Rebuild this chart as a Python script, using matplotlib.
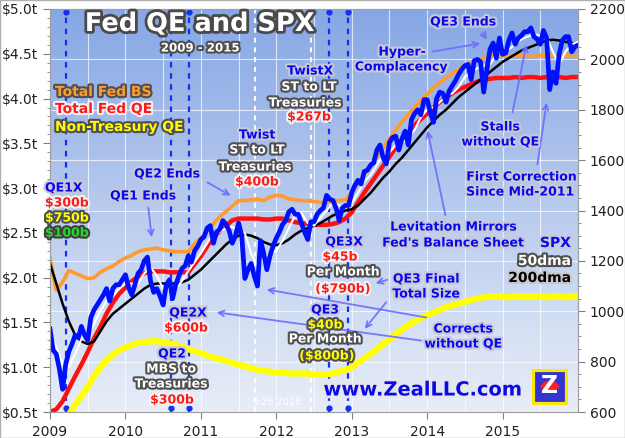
import numpy as np
import matplotlib
matplotlib.use('Agg')
import matplotlib.pyplot as plt
import matplotlib.patheffects as pe
from matplotlib.colors import LinearSegmentedColormap
from matplotlib.patches import Rectangle, Wedge

W, H = 625, 438

# Fed balance sheet series, $ trillions, month starts Jan 2009 .. Jan 2016
fed_bs = [2.22, 1.86, 1.95, 2.08, 2.05, 2.02, 1.99, 2.00, 2.06, 2.10, 2.13, 2.18,
          2.22, 2.25, 2.29, 2.31, 2.32, 2.33, 2.31, 2.30, 2.29, 2.29, 2.29, 2.38,
          2.44, 2.52, 2.60, 2.68, 2.74, 2.80, 2.86, 2.86, 2.87, 2.88, 2.86, 2.90,
          2.92, 2.91, 2.88, 2.87, 2.86, 2.86, 2.85, 2.84, 2.84, 2.86, 2.86, 2.87,
          2.95, 3.05, 3.15, 3.25, 3.35, 3.45, 3.55, 3.65, 3.74, 3.82, 3.90, 3.98,
          4.05, 4.12, 4.18, 4.23, 4.28, 4.33, 4.37, 4.40, 4.43, 4.45, 4.47, 4.48,
          4.48, 4.47, 4.48, 4.48, 4.47, 4.47, 4.48, 4.48, 4.47, 4.47, 4.48, 4.47,
          4.47]
fed_qe = [0.50, 0.53, 0.62, 0.76, 0.90, 1.03, 1.17, 1.32, 1.45, 1.60, 1.72, 1.82,
          1.89, 1.96, 2.01, 2.05, 2.07, 2.07, 2.07, 2.06, 2.06, 2.06, 2.06, 2.15,
          2.24, 2.35, 2.45, 2.52, 2.58, 2.64, 2.66, 2.66, 2.66, 2.66, 2.65, 2.65,
          2.66, 2.66, 2.64, 2.62, 2.61, 2.60, 2.59, 2.59, 2.59, 2.60, 2.62, 2.66,
          2.73, 2.84, 2.95, 3.05, 3.15, 3.25, 3.35, 3.45, 3.54, 3.62, 3.70, 3.77,
          3.83, 3.90, 3.96, 4.01, 4.06, 4.10, 4.13, 4.16, 4.19, 4.21, 4.22, 4.23,
          4.23, 4.23, 4.24, 4.23, 4.24, 4.24, 4.23, 4.24, 4.23, 4.24, 4.23, 4.24,
          4.24]
non_tsy = [0.25, 0.30, 0.38, 0.47, 0.58, 0.68, 0.78, 0.90, 1.00, 1.08, 1.14, 1.19,
           1.22, 1.25, 1.27, 1.28, 1.29, 1.29, 1.28, 1.27, 1.25, 1.23, 1.20, 1.18,
           1.16, 1.13, 1.11, 1.09, 1.07, 1.05, 1.03, 1.01, 0.99, 0.97, 0.96, 0.95,
           0.94, 0.94, 0.93, 0.93, 0.93, 0.93, 0.92, 0.92, 0.92, 0.93, 0.95, 0.97,
           1.00, 1.05, 1.10, 1.15, 1.20, 1.26, 1.31, 1.37, 1.42, 1.47, 1.51, 1.55,
           1.58, 1.61, 1.64, 1.67, 1.69, 1.71, 1.73, 1.75, 1.77, 1.78, 1.79, 1.79,
           1.79, 1.78, 1.79, 1.79, 1.78, 1.79, 1.79, 1.78, 1.79, 1.79, 1.78, 1.79,
           1.79]
months = 2009 + np.arange(len(fed_bs)) / 12

# S&P 500, twice a month
spx = [930, 845, 830, 770, 690, 790, 840, 870, 905, 895, 940, 905,
       885, 975, 1005, 1025, 1045, 1065, 1090, 1040, 1090, 1105, 1105, 1125,
       1145, 1095, 1065, 1105, 1150, 1165, 1200, 1215, 1120, 1075, 1090, 1060,
       1025, 1105, 1125, 1050, 1105, 1140, 1170, 1180, 1220, 1195, 1240, 1258,
       1285, 1295, 1330, 1340, 1270, 1315, 1325, 1360, 1345, 1320, 1270, 1300,
       1350, 1300, 1130, 1165, 1190, 1140, 1100, 1280, 1230, 1165, 1220, 1260,
       1290, 1315, 1345, 1360, 1395, 1405, 1385, 1385, 1350, 1315, 1285, 1355,
       1355, 1385, 1400, 1410, 1460, 1445, 1440, 1410, 1360, 1410, 1420, 1420,
       1470, 1500, 1520, 1505, 1555, 1560, 1580, 1590, 1640, 1660, 1610, 1585,
       1670, 1690, 1695, 1640, 1685, 1715, 1660, 1760, 1785, 1800, 1780, 1840,
       1840, 1790, 1750, 1845, 1870, 1865, 1830, 1875, 1895, 1915, 1940, 1960,
       1975, 1980, 1920, 1995, 2000, 1990, 1870, 1960, 2040, 2065, 2005, 2085,
       2020, 2025, 2075, 2105, 2060, 2085, 2095, 2110, 2110, 2125, 2090, 2080,
       2060, 2115, 2085, 1880, 1950, 1905, 2020, 2075, 2090, 2090, 2030, 2050,
       2055]
half_months = 2009 + np.arange(len(spx)) / 24

dma50 = [900, 860, 790, 780, 830, 890, 910, 950, 1000, 1040, 1060, 1090,
         1110, 1110, 1110, 1150, 1175, 1140, 1090, 1085, 1090, 1120, 1160, 1195,
         1230, 1270, 1310, 1315, 1330, 1335, 1320, 1310, 1230, 1180, 1210, 1230,
         1240, 1280, 1330, 1380, 1390, 1350, 1340, 1370, 1400, 1430, 1420, 1410,
         1430, 1470, 1515, 1540, 1580, 1620, 1630, 1660, 1670, 1690, 1720, 1770,
         1800, 1810, 1830, 1855, 1865, 1890, 1930, 1950, 1965, 1975, 1980, 2020,
         2045, 2040, 2060, 2080, 2090, 2100, 2095, 2090, 2030, 1980, 2030, 2060,
         2070]
dma200 = [1190, 1110, 1030, 960, 905, 880, 870, 880, 920, 960, 990, 1010,
          1030, 1050, 1070, 1090, 1105, 1110, 1110, 1110, 1110, 1115, 1125, 1145,
          1165, 1190, 1215, 1240, 1265, 1285, 1300, 1305, 1300, 1290, 1275, 1265,
          1262, 1270, 1285, 1305, 1320, 1330, 1340, 1350, 1365, 1380, 1390, 1400,
          1405, 1420, 1445, 1470, 1500, 1530, 1555, 1585, 1610, 1640, 1670, 1700,
          1730, 1755, 1780, 1800, 1825, 1850, 1870, 1890, 1910, 1930, 1950, 1970,
          1990, 2005, 2020, 2035, 2045, 2055, 2065, 2075, 2078, 2075, 2070, 2065,
          2062]

qe_dates = [2009.21, 2010.61, 2010.84, 2012.70, 2012.95]
twist_dates = [2011.72, 2012.46]

fig = plt.figure(figsize=(W / 100, H / 100), dpi=100)
fig.patches.append(Rectangle((0, 0), 1, 1, transform=fig.transFigure, fill=False,
                             edgecolor='#b0b0b0', lw=1))
ax = fig.add_axes([50 / W, 1 - 412 / H, 528 / W, 403 / H])
ax2 = ax.twinx()

# background gradient
cmap = LinearSegmentedColormap.from_list('bg', ['#e8eef8', '#b9cbee', '#86a7e5'])
ax.imshow(np.linspace(0, 1, 256).reshape(-1, 1), extent=[0, 1, 0, 1], transform=ax.transAxes,
          aspect='auto', cmap=cmap, origin='lower', zorder=0)

for v in np.arange(2009.5, 2016, 0.5):
    ax.axvline(v, color='white', lw=0.8, alpha=0.7, zorder=0.5)
for v in range(800, 2200, 200):
    f = (v - 600) / 1600
    ax.plot([0, 1], [f, f], transform=ax.transAxes, color='white', lw=0.8, alpha=0.7, zorder=0.5)

for d in qe_dates:
    ax.axvline(d, color='#1530f0', lw=1.6, ls=(0, (2.5, 2.5)), zorder=1.5)
    ax.plot([d, d], [0.01, 0.993], 'o', color='#1530f0', ms=3.5,
            transform=ax.get_xaxis_transform(), zorder=1.5, clip_on=False)
for d in twist_dates:
    ax.axvline(d, color='white', lw=1.4, ls=(0, (2.5, 2.5)), zorder=1.5)

ax.plot(months, non_tsy, color='#ffff00', lw=4.5, zorder=2)
ax.plot(months, fed_bs, color='#ff9a2e', lw=2.6, zorder=2)
ax.plot(months, fed_qe, color='#ff1010', lw=3.2, zorder=2)

ax2.plot(months, dma200, color='black', lw=1.8)
ax2.plot(months, dma50, color='white', lw=1.5)
ax2.plot(half_months, spx, color='#0010ff', lw=3.4)

ax.set_xlim(2009, 2016)
ax.set_ylim(0.5, 5.0)
ax2.set_ylim(600, 2200)
ax.set_xticks(range(2009, 2016))
ax.set_xticklabels([str(y) for y in range(2009, 2016)])
ax.set_yticks(np.arange(0.5, 5.01, 0.5))
ax.set_yticklabels(['$%.1ft' % v for v in np.arange(0.5, 5.01, 0.5)])
ax.set_yticks(np.arange(0.5, 5.01, 0.1), minor=True)
ax2.set_yticks(range(600, 2201, 200))
ax2.set_yticks(range(600, 2201, 50), minor=True)
for a in (ax, ax2):
    a.tick_params(which='major', length=5, color='#808080', labelsize=10, labelcolor='#202020')
    a.tick_params(which='minor', length=2.5, color='#808080')
    for s in a.spines.values():
        s.set_color('#a0a0a0')
ax.tick_params(axis='x', pad=4)


def T(x, y, s, fc, ec, size=9, ha='center', lw=3):
    fig.text(x / W, 1 - y / H, s, color=fc, fontsize=size, fontweight='bold', ha=ha, va='center',
             path_effects=[pe.withStroke(linewidth=lw, foreground=ec)])


def A(x0, y0, x1, y1):
    ax2.annotate('', xy=(x1, H - y1), xytext=(x0, H - y0), xycoords='figure pixels',
                 arrowprops=dict(arrowstyle='->', color='#6c6cff', lw=1.3, alpha=0.9))


BL, BE = '#0808f0', '#c8c8d6'
WH, WE = 'white', '#505050'
RD, RE = '#ff1a1a', '#f2f2f2'
YL, YE = '#ffff00', '#505050'

T(200, 24, 'Fed QE and SPX', 'white', '#4a4a4a', size=18.5, lw=4)
T(200, 48, '2009 - 2015', WH, WE, size=8.5)

T(55, 92, 'Total Fed BS', '#ff9a2e', '#505050', size=10, ha='left')
T(55, 109, 'Total Fed QE', RD, RE, size=10, ha='left')
T(55, 127, 'Non-Treasury QE', YL, YE, size=10, ha='left')

T(45, 188, 'QE1X', BL, BE, ha='left')
T(45, 203, '$300b', RD, RE, ha='left')
T(45, 218, '$750b', YL, YE, ha='left')
T(45, 233, '$100b', '#22dd22', '#404040', ha='left')

T(143, 196, 'QE1 Ends', BL, BE)
A(148, 205, 152, 240)
T(167, 174, 'QE2 Ends', BL, BE)
A(205, 181, 233, 197)

T(257, 135, 'Twist', BL, BE)
T(257, 150, 'ST to LT', WH, WE)
T(255, 167, 'Treasuries', WH, WE)
T(257, 182, '$400b', RD, RE)

T(310, 71, 'TwistX', BL, BE)
T(309, 87, 'ST to LT', WH, WE)
T(305, 103, 'Treasuries', WH, WE)
T(309, 117, '$267b', RD, RE)

T(463, 22, 'QE3 Ends', BL, BE)
A(481, 30, 488, 42)
T(402, 52, 'Hyper-', BL, BE)
T(401, 67, 'Complacency', BL, BE)
A(430, 52, 483, 43)
T(500, 127, 'Stalls', BL, BE)
T(500, 142, 'without QE', BL, BE)
A(512, 115, 527, 42)
T(521, 177, 'First Correction', BL, BE)
T(520, 192, 'Since Mid-2011', BL, BE)
A(537, 167, 547, 100)
T(453, 227, 'Levitation Mirrors', BL, BE)
T(453, 243, "Fed's Balance Sheet", BL, BE)
A(446, 218, 427, 128)

T(571, 243, 'SPX', BL, BE, ha='right', size=10)
T(571, 261, '50dma', WH, WE, ha='right', size=10)
T(571, 278, '200dma', 'black', '#c8c8c8', ha='right', size=10)

T(344, 242, 'QE3X', BL, BE)
T(340, 257, '$45b', RD, RE)
T(343, 272, 'Per Month', WH, WE)
T(343, 289, '($790b)', RD, RE)
T(426, 279, 'QE3 Final', BL, BE)
T(426, 294, 'Total Size', BL, BE)
A(390, 279, 373, 284)
A(388, 300, 363, 331)

T(325, 310, 'QE3', BL, BE)
T(325, 325, '$40b', YL, YE)
T(325, 339, 'Per Month', WH, WE)
T(327, 356, '($800b)', YL, YE)

T(463, 329, 'Corrects', BL, BE)
T(463, 344, 'without QE', BL, BE)
A(429, 318, 264, 289)
A(424, 341, 214, 312)

T(188, 313, 'QE2X', BL, BE)
T(186, 328, '$600b', RD, RE)
T(172, 354, 'QE2', BL, BE)
T(171, 369, 'MBS to', WH, WE)
T(171, 384, 'Treasuries', WH, WE)
T(172, 400, '$300b', RD, RE)

T(423, 390, 'www.ZealLLC.com', '#0a0ae6', '#e6e6ee', size=14, lw=4)
fig.text(277 / W, 1 - 402 / H, '9.26.2018', color='white', fontsize=7, ha='center', va='center')

# logo
lax = fig.add_axes([532 / W, 1 - 405 / H, 36 / W, 36 / H])
lax.set_xlim(0, 1)
lax.set_ylim(0, 1)
lax.axis('off')
lax.add_patch(Rectangle((0.04, 0.04), 0.92, 0.92, facecolor='#3434d4', edgecolor='#ffe600', lw=3))
lax.text(0.5, 0.52, 'Z', color='white', fontsize=17, fontweight='bold', ha='center', va='center')
lax.add_patch(Wedge((0.5, 0.38), 0.28, 25, 155, color='#ff2020'))

fig.savefig('out.png', dpi=100)
